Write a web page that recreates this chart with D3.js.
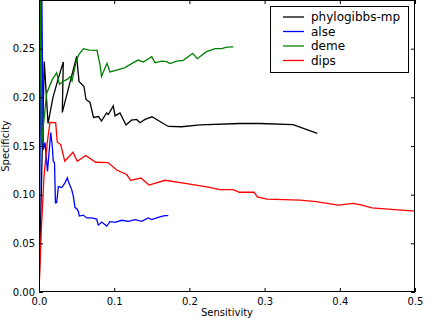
<!DOCTYPE html>
<html><head><meta charset="utf-8">
<script src="https://cdn.jsdelivr.net/npm/d3@7"></script>
<style>body{margin:0;background:#fff}svg{display:block;font-family:"DejaVu Sans",sans-serif}</style>
</head><body><div id="chart"></div>
<script>
const seriesNames = ["phylogibbs-mp", "alse", "deme", "dips"];
const seriesColors = ["#000000", "#0000ff", "#008000", "#ff0000"];
const xTicks = [0.0, 0.1, 0.2, 0.3, 0.4, 0.5];
const yTicks = [0.00, 0.05, 0.10, 0.15, 0.20, 0.25];

const phylogibbsX = [0,0.0070,0.0120,0.0186,0.0253,0.0323,0.0310,0.0501,0.0532,0.0598,0.0625,0.0678,0.0725,0.0791,0.0831,0.0898,0.0922,0.0988,0.1011,0.1077,0.1157,0.1230,0.1299,0.1343,0.1410,0.1503,0.1719,0.1898,0.2141,0.2673,0.2939,0.3378,0.3701];
const phylogibbsY = [0,0.2369,0.1731,0.1999,0.2184,0.2364,0.1845,0.2421,0.2164,0.2112,0.1978,0.1948,0.1793,0.1803,0.1757,0.1840,0.1824,0.1912,0.1809,0.1840,0.1716,0.1765,0.1773,0.1739,0.1773,0.1800,0.1701,0.1698,0.1718,0.1731,0.1731,0.1719,0.1629];

const alseX = [0,0.0033,0.0057,0.0080,0.0113,0.0156,0.0177,0.0190,0.0206,0.0219,0.0235,0.0257,0.0302,0.0346,0.0376,0.0390,0.0412,0.0435,0.0456,0.0479,0.0501,0.0523,0.0536,0.0589,0.0634,0.0701,0.0767,0.0789,0.0834,0.0900,0.0944,0.1011,0.1100,0.1188,0.1277,0.1366,0.1453,0.1499,0.1565,0.1632,0.1676,0.1719];
const alseY = [0,0.3419,0.1464,0.1536,0.1238,0.1639,0.1495,0.1341,0.1330,0.0916,0.0919,0.1083,0.1073,0.1121,0.1173,0.1138,0.1094,0.1052,0.0984,0.0867,0.0857,0.0829,0.0780,0.0790,0.0761,0.0761,0.0749,0.0687,0.0718,0.0677,0.0723,0.0716,0.0737,0.0726,0.0744,0.0726,0.0761,0.0744,0.0761,0.0778,0.0785,0.0785];

const demeX = [0,0.0017,0.0036,0.0049,0.0102,0.0133,0.0177,0.0235,0.0273,0.0323,0.0376,0.0412,0.0439,0.0501,0.0532,0.0592,0.0665,0.0771,0.0811,0.0831,0.0904,0.0944,0.1033,0.1144,0.1254,0.1320,0.1387,0.1499,0.1543,0.1632,0.1698,0.1742,0.1831,0.1919,0.2044,0.2105,0.2221,0.2340,0.2430,0.2496,0.2584];
const demeY = [0,0.3419,0.1505,0.1639,0.2040,0.2102,0.2184,0.2251,0.2133,0.2167,0.2184,0.2212,0.2167,0.2390,0.2441,0.2500,0.2486,0.2482,0.2338,0.2215,0.2349,0.2261,0.2280,0.2305,0.2356,0.2383,0.2362,0.2418,0.2356,0.2372,0.2366,0.2346,0.2372,0.2380,0.2452,0.2397,0.2467,0.2500,0.2500,0.2516,0.2519];

const dipsX = [0,0.0031,0.0066,0.0110,0.0146,0.0222,0.0243,0.0289,0.0342,0.0452,0.0509,0.0621,0.0754,0.0918,0.1033,0.1166,0.1219,0.1356,0.1463,0.1676,0.1964,0.2234,0.2407,0.2584,0.2664,0.2859,0.2903,0.3032,0.3471,0.3684,0.3980,0.4180,0.4295,0.4428,0.4641,0.5007];
const dipsY = [0,0.0641,0.1186,0.1536,0.1742,0.1739,0.1539,0.1515,0.1344,0.1436,0.1344,0.1402,0.1333,0.1330,0.1253,0.1207,0.1148,0.1171,0.1099,0.1148,0.1114,0.1080,0.1052,0.1052,0.1025,0.1025,0.0977,0.0955,0.0944,0.0929,0.0893,0.0910,0.0893,0.0864,0.0852,0.0831];

const seriesX = [phylogibbsX, alseX, demeX, dipsX];
const seriesY = [phylogibbsY, alseY, demeY, dipsY];

const W = 430, H = 318;
const mg = {left: 39, right: 15, top: 0, bottom: 26};
const iw = W - mg.left - mg.right, ih = H - mg.top - mg.bottom;

const svg = d3.select("#chart").append("svg").attr("width", W).attr("height", H);
const xs = d3.scaleLinear().domain([0, 0.5]).range([mg.left, mg.left + iw]);
const ys = d3.scaleLinear().domain([0, 0.3]).range([mg.top + ih, mg.top]);

svg.append("defs").append("clipPath").attr("id", "clip")
  .append("rect").attr("x", mg.left).attr("y", mg.top).attr("width", iw).attr("height", ih);

const lineGen = d3.line().x(d => xs(d[0])).y(d => ys(d[1]));
const plotG = svg.append("g").attr("clip-path", "url(#clip)");
seriesNames.forEach((n, i) => {
  const pts = seriesX[i].map((v, j) => [v, seriesY[i][j]]);
  plotG.append("path").datum(pts).attr("d", lineGen).attr("fill", "none")
    .attr("stroke", seriesColors[i]).attr("stroke-width", 1.3).attr("stroke-linejoin", "miter");
});

const fmtX = d3.format(".1f"), fmtY = d3.format(".2f");
const axB = svg.append("g").attr("transform", `translate(0,${mg.top + ih})`)
  .call(d3.axisBottom(xs).tickValues(xTicks).tickFormat(fmtX).tickSizeInner(-4).tickSizeOuter(0).tickPadding(6));
const axT = svg.append("g").attr("transform", `translate(0,${mg.top})`)
  .call(d3.axisTop(xs).tickValues(xTicks).tickFormat("").tickSizeInner(-4).tickSizeOuter(0));
const axL = svg.append("g").attr("transform", `translate(${mg.left},0)`)
  .call(d3.axisLeft(ys).tickValues(yTicks).tickFormat(fmtY).tickSizeInner(-4).tickSizeOuter(0).tickPadding(4));
const axR = svg.append("g").attr("transform", `translate(${mg.left + iw},0)`)
  .call(d3.axisRight(ys).tickValues(yTicks).tickFormat("").tickSizeInner(-4).tickSizeOuter(0));
[axB, axT, axL, axR].forEach(a => {
  a.select(".domain").remove();
  a.selectAll("line").attr("stroke", "#000");
  a.selectAll("text").attr("font-size", 10).attr("fill", "#000").attr("font-family", "DejaVu Sans");
});

svg.append("rect").attr("x", mg.left + 0.5).attr("y", mg.top + 0.5).attr("width", iw - 1).attr("height", ih - 1)
  .attr("fill", "none").attr("stroke", "#000").attr("stroke-width", 1);

svg.append("text").attr("x", mg.left + iw / 2).attr("y", 316).attr("text-anchor", "middle")
  .attr("font-size", 10).text("Sensitivity");
svg.append("text").attr("transform", `translate(9,${mg.top + ih / 2}) rotate(-90)`).attr("text-anchor", "middle")
  .attr("font-size", 10).text("Specificity");

const lg = svg.append("g");
lg.append("rect").attr("x", 270.5).attr("y", 6.5).attr("width", 138).attr("height", 66)
  .attr("fill", "#fff").attr("stroke", "#000").attr("stroke-width", 1);
seriesNames.forEach((n, i) => {
  const yy = 17 + i * 14.5;
  lg.append("line").attr("x1", 283).attr("x2", 304).attr("y1", yy).attr("y2", yy)
    .attr("stroke", seriesColors[i]).attr("stroke-width", 1.3);
  lg.append("text").attr("x", 311).attr("y", yy).attr("dy", "0.35em").attr("font-size", 12).text(n);
});
</script></body></html>
